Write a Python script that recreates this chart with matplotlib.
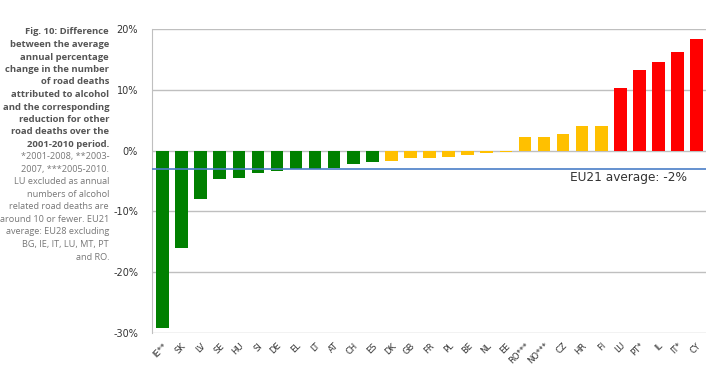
import matplotlib
matplotlib.use("Agg")
import matplotlib.pyplot as plt
import numpy as np

# data
countries = ["IE**", "SK", "LV", "SE", "HU", "SI", "DE", "EL", "LT", "AT", "CH", "ES",
             "DK", "GB", "FR", "PL", "BE", "NL", "EE", "RO***", "NO***", "CZ", "HR", "FI",
             "LU", "PT*", "IL", "IT*", "CY"]
values = [-29.2, -16.1, -7.9, -4.7, -4.45, -3.7, -3.3, -3.0, -3.0, -2.8, -2.25, -1.85,
          -1.7, -1.15, -1.15, -1.05, -0.8, -0.4, -0.3, 2.2, 2.2, 2.75, 4.05, 4.05,
          10.3, 13.3, 14.5, 16.2, 18.4]
groups = ["g"] * 12 + ["y"] * 12 + ["r"] * 5
eu_avg = -3.1
eu_label = "EU21 average: -2%"

col_map = {"g": "#008000", "y": "#FFC000", "r": "#FF0000"}
colors = [col_map[g] for g in groups]

fig = plt.figure(figsize=(7.12, 3.92), dpi=100)
ax = fig.add_axes([0.2135, 0.151, 0.778, 0.775])
ax.set_axisbelow(True)

x = np.arange(len(countries))
ax.bar(x, values, width=0.66, color=colors, zorder=3)
ax.axhline(eu_avg, color="#4A7EC7", lw=1.2, zorder=4)
ax.text(27.5, eu_avg - 0.35, eu_label, ha="right", va="top", fontsize=8.7,
        color="#333333", family="DejaVu Sans")

ax.set_xlim(-0.55, len(countries) - 0.51)
ax.set_ylim(-30, 20)
ax.set_yticks([-30, -20, -10, 0, 10, 20])
ax.set_yticklabels(["-30%", "-20%", "-10%", "0%", "10%", "20%"])
ax.yaxis.grid(True, color="#BFBFBF", lw=1)
ax.tick_params(axis="y", length=0, pad=10, labelsize=7, labelcolor="#333333")
ax.set_xticks(x)
ax.set_xticklabels(countries, rotation=45, ha="right", rotation_mode="anchor",
                   fontsize=6, color="#333333")
ax.tick_params(axis="x", length=0, pad=6)
for s in ["top", "right", "bottom"]:
    ax.spines[s].set_visible(False)
ax.spines["left"].set_color("#BFBFBF")

# side caption
bold_lines = ["Fig. 10: Difference", "between the average", "annual percentage",
              "change in the number", "of road deaths", "attributed to alcohol",
              "and the corresponding", "reduction for other", "road deaths over the",
              "2001-2010 period."]
norm_lines = ["*2001-2008, **2003-", "2007, ***2005-2010.", "LU excluded as annual",
              "numbers of alcohol", "related road deaths are", "around 10 or fewer. EU21",
              "average: EU28 excluding", "BG, IE, IT, LU, MT, PT", "and RO."]
y0 = 32
for i, t in enumerate(bold_lines + norm_lines):
    bold = i < len(bold_lines)
    fig.text(109 / 712, 1 - (y0 + i * 12.5) / 392, t, ha="right", va="center",
             fontsize=6.8 if bold else 6.6, fontweight="bold" if bold else "normal",
             color="#555555" if bold else "#777777", family="Open Sans")

fig.savefig("out.png", dpi=100)
